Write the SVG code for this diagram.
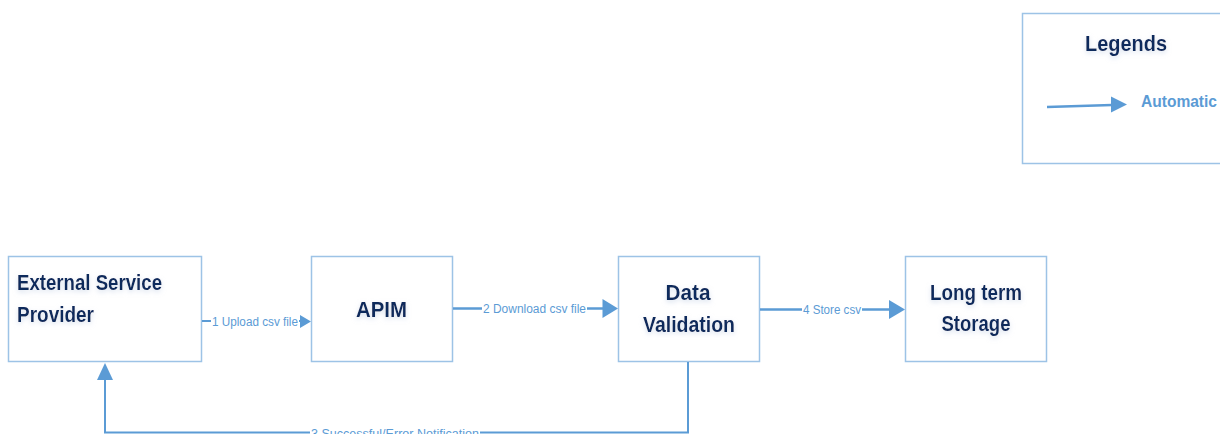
<svg xmlns="http://www.w3.org/2000/svg" width="1220" height="434" viewBox="0 0 1220 434">
<style>
.box{fill:#ffffff;stroke:#9dc3e6;stroke-width:1.5}
.title{font-family:"Liberation Sans",Arial,sans-serif;font-weight:bold;fill:#112a5c;font-size:22px}
.lbl{font-family:"Liberation Sans",Arial,sans-serif;fill:#5b9bd5;font-size:12.5px}
.ln{stroke:#5b9bd5;fill:none}
.ah{fill:#5b9bd5}
</style>
<defs>
<filter id="glow" x="-20%" y="-40%" width="140%" height="180%">
<feGaussianBlur in="SourceAlpha" stdDeviation="2.5"/>
<feOffset dx="0" dy="2" result="b"/>
<feFlood flood-color="#b8c8e0" flood-opacity="0.6"/>
<feComposite in2="b" operator="in"/>
<feMerge><feMergeNode/><feMergeNode in="SourceGraphic"/></feMerge>
</filter>
</defs>
<rect width="1220" height="434" fill="#ffffff"/>

<g id="legend">
<rect class="box" x="1022.5" y="13.5" width="210" height="150"/>
<text class="title" x="1126" y="51" text-anchor="middle" filter="url(#glow)" textLength="82" lengthAdjust="spacingAndGlyphs">Legends</text>
<line class="ln" x1="1047" y1="107" x2="1112" y2="105" stroke-width="2.5"/>
<polygon class="ah" points="1127,104.5 1111,96.5 1111,112.5"/>
<text x="1141" y="107" font-family="Liberation Sans, Arial, sans-serif" font-weight="bold" font-size="16" fill="#5b9bd5" textLength="76" lengthAdjust="spacingAndGlyphs">Automatic</text>
</g>

<g id="esp">
<rect class="box" x="8.5" y="256.5" width="193" height="105"/>
<g class="title" filter="url(#glow)">
<text x="17" y="290" textLength="145" lengthAdjust="spacingAndGlyphs">External Service</text>
<text x="17" y="322" textLength="77" lengthAdjust="spacingAndGlyphs">Provider</text>
</g>
</g>

<g id="apim">
<rect class="box" x="311.5" y="256.5" width="141" height="105"/>
<text class="title" x="381.5" y="317" text-anchor="middle" filter="url(#glow)" textLength="51" lengthAdjust="spacingAndGlyphs">APIM</text>
</g>

<g id="dv">
<rect class="box" x="618.5" y="256.5" width="141" height="105"/>
<g class="title" filter="url(#glow)" text-anchor="middle">
<text x="688" y="300" textLength="45" lengthAdjust="spacingAndGlyphs">Data</text>
<text x="689" y="332" textLength="92" lengthAdjust="spacingAndGlyphs">Validation</text>
</g>
</g>

<g id="lts">
<rect class="box" x="905.5" y="256.5" width="141" height="105"/>
<g class="title" filter="url(#glow)" text-anchor="middle">
<text x="976" y="300" textLength="92" lengthAdjust="spacingAndGlyphs">Long term</text>
<text x="976" y="331" textLength="69" lengthAdjust="spacingAndGlyphs">Storage</text>
</g>
</g>

<g id="connectors">
<line class="ln" x1="202" y1="321" x2="301" y2="321" stroke-width="2"/>
<polygon class="ah" points="311,321.5 300,315 300,328"/>
<rect x="211" y="313" width="88" height="16" fill="#ffffff"/>
<text class="lbl" x="255" y="325.5" text-anchor="middle" textLength="86" lengthAdjust="spacingAndGlyphs">1 Upload csv file</text>

<line class="ln" x1="453" y1="308.5" x2="604" y2="308.5" stroke-width="2.5"/>
<polygon class="ah" points="618,308.5 602.5,299 602.5,318"/>
<rect x="482" y="300" width="105" height="16" fill="#ffffff"/>
<text class="lbl" x="534.5" y="313" text-anchor="middle" textLength="103" lengthAdjust="spacingAndGlyphs">2 Download csv file</text>

<line class="ln" x1="760" y1="309.5" x2="891" y2="309.5" stroke-width="2.5"/>
<polygon class="ah" points="905,309.5 889,300 889,319"/>
<rect x="802" y="301" width="60" height="16" fill="#ffffff"/>
<text class="lbl" x="832" y="314" text-anchor="middle" textLength="58" lengthAdjust="spacingAndGlyphs">4 Store csv</text>

<polyline class="ln" points="688,362 688,432.5 105,432.5 105,378" stroke-width="2"/>
<polygon class="ah" points="105,363 97,380 113,380"/>
<rect x="310" y="427" width="170" height="10" fill="#ffffff"/>
<text class="lbl" x="395" y="438" text-anchor="middle" textLength="168" lengthAdjust="spacingAndGlyphs">3 Successful/Error Notification</text>
</g>
</svg>
